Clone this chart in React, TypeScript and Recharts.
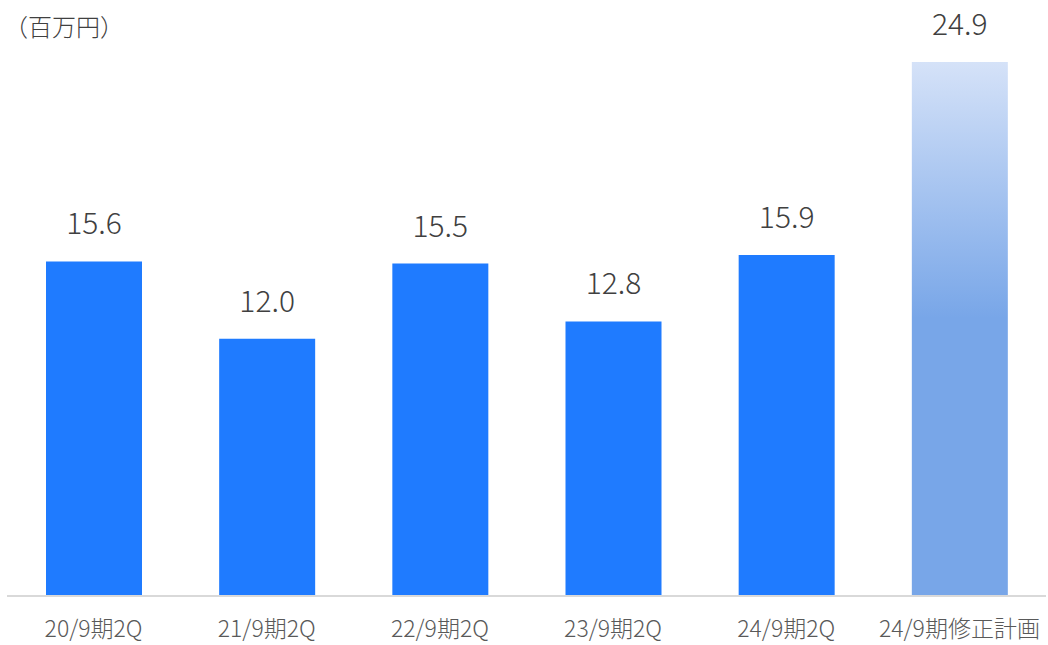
import React from 'react';
import { BarChart, Bar, XAxis, YAxis, Cell, LabelList } from 'recharts';

const categories = ['20/9期2Q', '21/9期2Q', '22/9期2Q', '23/9期2Q', '24/9期2Q', '24/9期修正計画'];
const values = [15.6, 12.0, 15.5, 12.8, 15.9, 24.9];
const isPlan = [false, false, false, false, false, true];

const data = categories.map((name, i) => ({ name, value: values[i], plan: isPlan[i] }));

const FONT = '"Noto Sans CJK JP", "Noto Sans", sans-serif';

export default function App() {
  return (
    <div style={{ position: 'absolute', left: 0, top: 0, width: 1048, height: 645, background: '#fff', fontFamily: FONT }}>
      <div style={{ position: 'absolute', left: 4, top: 10, fontSize: 24, fontWeight: 300, color: '#404040', lineHeight: '32px' }}>
        （百万円）
      </div>
      <BarChart
        width={1048}
        height={645}
        data={data}
        margin={{ top: 62, right: 2, left: 7, bottom: 0 }}
        barSize={96}
      >
        <defs>
          <linearGradient id="planFill" x1="0" y1="0" x2="0" y2="1">
            <stop offset="0%" stopColor="#d5e2f8" />
            <stop offset="48%" stopColor="#78a6e8" />
            <stop offset="100%" stopColor="#78a6e8" />
          </linearGradient>
        </defs>
        <XAxis
          dataKey="name"
          height={49}
          tickLine={false}
          axisLine={{ stroke: '#d9d9d9', strokeWidth: 2 }}
          tick={{ fontSize: 23, fill: '#595959', fontFamily: FONT, fontWeight: 300 }}
          dy={17}
          interval={0}
        />
        <YAxis hide domain={[0, 24.9]} />
        <Bar dataKey="value" isAnimationActive={false}>
          {data.map((d, i) => (
            <Cell key={i} fill={d.plan ? 'url(#planFill)' : '#1f7bff'} />
          ))}
          <LabelList
            dataKey="value"
            position="top"
            offset={27}
            formatter={(v: number) => v.toFixed(1)}
            style={{ fontSize: 30, fill: '#404040', fontFamily: FONT, fontWeight: 300 }}
          />
        </Bar>
      </BarChart>
    </div>
  );
}
